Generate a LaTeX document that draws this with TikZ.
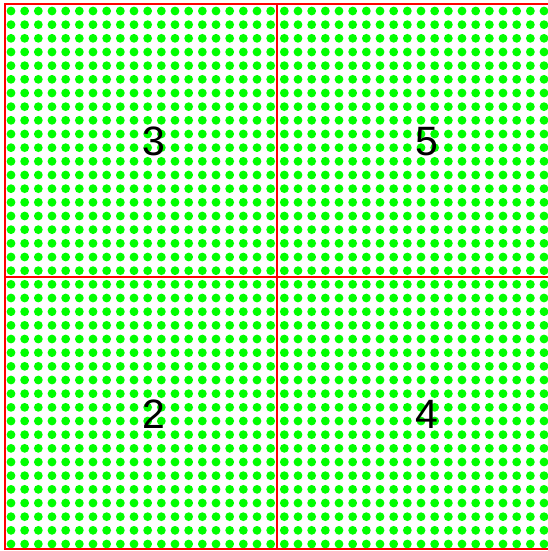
\documentclass[tikz,border=0pt]{standalone}
\usepackage{fontspec}
\setmainfont{Liberation Sans}
\usetikzlibrary{positioning}
\definecolor{dotGreen}{HTML}{00FF00}
\definecolor{lineRed}{HTML}{FF0000}
\tikzset{
  griddot/.style   = {fill=dotGreen},
  frameline/.style = {lineRed, line width=2.2pt},
  quadlbl/.style   = {font=\fontsize{41}{48}\selectfont, text=black, inner sep=0pt},
}

\begin{document}
\begin{tikzpicture}[x=1pt, y=-1pt]
  \useasboundingbox (0,0) rectangle (548,551);

  % 40 x 40 dot lattice
  \foreach \i in {0,...,39}
    \foreach \j in {0,...,39}
      \fill[griddot] ({11+13.667*\i},{11+13.667*\j}) circle[radius=4.4pt];

  \coordinate (tl) at (5.2,4.3);
  \coordinate (br) at (549.4,549.3);
  \coordinate (midtop) at (277.3,4.3);
  \coordinate (midbot) at (277.3,549.3);
  \coordinate (midleft) at (5.2,276.8);
  \coordinate (midright) at (549.4,276.8);

  \draw[frameline] (tl) rectangle (br);
  \draw[frameline] (midtop) -- (midbot);
  \draw[frameline] (midleft) -- (midright);

  \node[quadlbl] (q3) at (154,141.5) {3};
  \node[quadlbl] (q5) at (427,141.5) {5};
  \node[quadlbl] (q2) at (154,414.5) {2};
  \node[quadlbl] (q4) at (427,414.5) {4};
\end{tikzpicture}
\end{document}
